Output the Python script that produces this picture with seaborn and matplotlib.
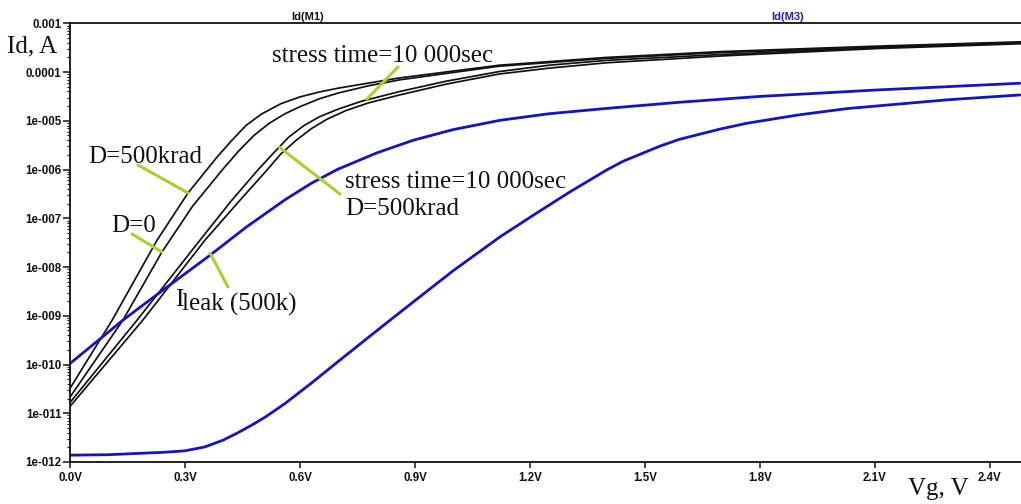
import numpy as np
import pandas as pd
import matplotlib
matplotlib.use("Agg")
import matplotlib.pyplot as plt
from matplotlib.lines import Line2D
from matplotlib.ticker import FixedLocator, FixedFormatter, LogLocator, NullFormatter
import seaborn as sns

# ---------------- data (log10 of Id in A) ----------------
vA = [0.00, 0.11, 0.227, 0.308, 0.383, 0.42, 0.46, 0.50, 0.55, 0.60, 0.65, 0.70, 0.86, 1.12, 1.40, 1.70, 2.10, 2.48]
lA = [-10.49, -9.09, -7.45, -6.48, -5.75, -5.42, -5.09, -4.86, -4.65, -4.51, -4.41, -4.33, -4.12, -3.86, -3.70, -3.58, -3.47, -3.38]

vB = [0.00, 0.138, 0.24, 0.32, 0.397, 0.44, 0.48, 0.52, 0.56, 0.60, 0.65, 0.70, 0.78, 0.86, 1.12, 1.40, 1.70, 2.10, 2.48]
lB = [-10.67, -9.09, -7.69, -6.75, -6.01, -5.62, -5.30, -5.05, -4.86, -4.71, -4.55, -4.43, -4.28, -4.16, -3.88, -3.72, -3.60, -3.49, -3.40]

vC = [0.00, 0.175, 0.339, 0.42, 0.49, 0.53, 0.57, 0.61, 0.65, 0.70, 0.76, 0.86, 0.98, 1.12, 1.25, 1.40, 1.70, 2.10, 2.48]
lC = [-10.78, -9.09, -7.45, -6.65, -6.01, -5.67, -5.34, -5.10, -4.92, -4.76, -4.60, -4.40, -4.19, -3.99, -3.86, -3.76, -3.64, -3.50, -3.40]

vD = [0.00, 0.19, 0.352, 0.44, 0.514, 0.55, 0.59, 0.63, 0.67, 0.72, 0.78, 0.86, 0.98, 1.12, 1.25, 1.40, 1.70, 2.10, 2.48]
lD = [-10.86, -9.09, -7.45, -6.66, -6.01, -5.68, -5.40, -5.16, -4.97, -4.79, -4.63, -4.47, -4.25, -4.04, -3.92, -3.81, -3.67, -3.52, -3.42]

vLeak = [0.00, 0.138, 0.25, 0.365, 0.46, 0.561, 0.63, 0.697, 0.80, 0.895, 1.00, 1.122, 1.25, 1.409, 1.59, 1.80, 2.10, 2.478]
lLeak = [-9.98, -9.09, -8.43, -7.76, -7.18, -6.62, -6.28, -6.00, -5.66, -5.40, -5.18, -4.99, -4.855, -4.74, -4.62, -4.50, -4.37, -4.23]

vM3 = [0.00, 0.10, 0.248, 0.30, 0.352, 0.40, 0.438, 0.475, 0.509, 0.561, 0.63, 0.704, 0.835, 0.895, 0.999, 1.122, 1.22,
       1.304, 1.40, 1.443, 1.539, 1.59, 1.696, 1.766, 1.90, 2.027, 2.288, 2.478]
lM3 = [-11.86, -11.85, -11.80, -11.77, -11.69, -11.55, -11.40, -11.24, -11.08, -10.80, -10.38, -9.91, -9.09, -8.72, -8.08, -7.38, -6.88,
       -6.46, -6.01, -5.83, -5.52, -5.38, -5.17, -5.05, -4.88, -4.75, -4.57, -4.47]

ytick_vals = [1e-3, 1e-4, 1e-5, 1e-6, 1e-7, 1e-8, 1e-9, 1e-10, 1e-11, 1e-12]
ytick_labels = ["0.001", "0.0001", "1e-005", "1e-006", "1e-007", "1e-008",
                "1e-009", "1e-010", "1e-011", "1e-012"]
xtick_vals = [0.0, 0.3, 0.6, 0.9, 1.2, 1.5, 1.8, 2.1, 2.4]
xtick_labels = ["0.0V", "0.3V", "0.6V", "0.9V", "1.2V", "1.5V", "1.8V", "2.1V", "2.4V"]

# ---------------- style ----------------
sns.set_theme(style="ticks")
plt.rcParams["font.family"] = ["Liberation Sans", "DejaVu Sans"]

W, H = 1021, 504
fig = plt.figure(figsize=(W / 100, H / 100), dpi=100)
fig.patch.set_facecolor("white")

def fx(px):
    return px / W

def fy(py):
    return 1 - py / H

ax_left, ax_top, ax_bottom = 70, 23.3, 462
ax = fig.add_axes([fx(ax_left), fy(ax_bottom), 1 - fx(ax_left), (ax_bottom - ax_top) / H])
ax.set_facecolor("white")

BLACK = "#111111"
BLUE = "#1414c0"

series = [
    (vA, lA, BLACK, 1.25), (vB, lB, BLACK, 1.25), (vC, lC, BLACK, 1.25), (vD, lD, BLACK, 1.25),
    (vLeak, lLeak, BLUE, 2.0), (vM3, lM3, BLUE, 2.0),
]
for v, l, c, lw in series:
    df = pd.DataFrame({"V": v, "I": np.power(10.0, np.array(l))})
    sns.lineplot(data=df, x="V", y="I", ax=ax, color=c, linewidth=lw, legend=False,
                 estimator=None, sort=False)

ax.set_yscale("log")
ax.set_ylim(1e-12, 1e-3)
ax.set_xlim(0, (W - ax_left) / 383.3)
ax.set_xlabel("")
ax.set_ylabel("")

ax.yaxis.set_major_locator(FixedLocator(ytick_vals))
ax.yaxis.set_major_formatter(FixedFormatter(ytick_labels))
ax.yaxis.set_minor_locator(LogLocator(base=10, subs=np.arange(2, 10), numticks=100))
ax.yaxis.set_minor_formatter(NullFormatter())
ax.xaxis.set_major_locator(FixedLocator(xtick_vals))
ax.xaxis.set_major_formatter(FixedFormatter(xtick_labels))

for lab in ax.get_xticklabels() + ax.get_yticklabels():
    lab.set_fontweight("bold")
    lab.set_fontsize(8.3)
    lab.set_color("#111111")

ax.tick_params(axis="y", which="major", length=5, width=1.1, pad=1, color="#111111", left=True)
ax.tick_params(axis="y", which="minor", length=2.5, width=0.8, color="#111111")
ax.tick_params(axis="x", which="major", length=4.5, width=1.1, pad=3, color="#111111")

for side in ["left", "top", "bottom"]:
    ax.spines[side].set_visible(True)
    ax.spines[side].set_linewidth(1.3)
    ax.spines[side].set_color("#111111")
ax.spines["right"].set_visible(False)

# ---------------- titles ----------------
fig.text(fx(308), fy(20), "Id(M1)", ha="center", va="baseline", fontsize=8, fontweight="bold", color="#111111")
fig.text(fx(788), fy(20), "Id(M3)", ha="center", va="baseline", fontsize=8, fontweight="bold", color="#2020b0")

# ---------------- annotations ----------------
SERIF = ["Liberation Serif", "DejaVu Serif"]
TS = 18
TC = "#111111"
GREEN = "#a6d12e"

def label(px, py, s, size=TS):
    fig.text(fx(px), fy(py), s, ha="left", va="baseline", fontsize=size, family=SERIF, color=TC)

label(7, 52, "Id, A")
label(272, 62, "stress time=10 000sec")
label(88, 163, "D=500krad")
label(111, 232, "D=0")
label(175, 306, "I")
label(182, 311, "leak (500k)")
label(345, 188, "stress time=10 000sec")
label(345, 215, "D=500krad")
label(908, 495, "Vg, V")

pointers = [
    ((138, 165), (188, 193)),
    ((132, 234), (162, 252)),
    ((228, 287), (210, 253)),
    ((398, 67), (367, 99)),
    ((340, 194), (279, 147)),
]
for (x0, y0), (x1, y1) in pointers:
    fig.add_artist(Line2D([fx(x0), fx(x1)], [fy(y0), fy(y1)], color=GREEN, linewidth=2.2,
                          transform=fig.transFigure))

fig.savefig("out.png", dpi=100, facecolor="white")
